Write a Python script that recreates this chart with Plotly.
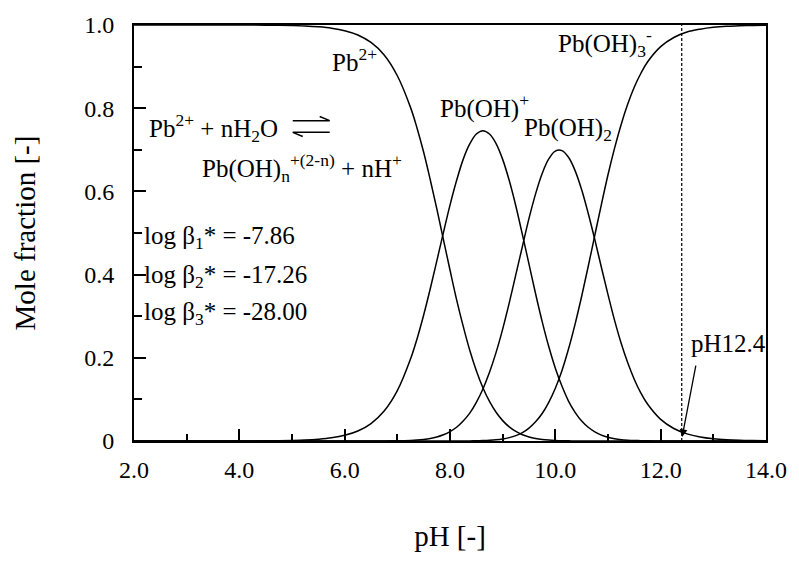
import plotly.graph_objects as go

# pH grid and mole fractions
ph = [2.0, 2.25, 2.5, 2.75, 3.0, 3.25, 3.5, 3.75, 4.0, 4.25, 4.5, 4.75,
      5.0, 5.25, 5.5, 5.75, 6.0, 6.25, 6.5, 6.75, 7.0, 7.25,
      7.375, 7.5, 7.625, 7.75, 7.875, 8.0, 8.125, 8.25, 8.375, 8.5, 8.625, 8.75, 8.875,
      9.0, 9.125, 9.25, 9.375, 9.5, 9.625, 9.75, 9.875, 10.0, 10.125, 10.25, 10.375,
      10.5, 10.625, 10.75, 10.875, 11.0, 11.125, 11.25, 11.375, 11.5, 11.625,
      11.75, 12.0, 12.25, 12.5, 12.75, 13.0, 13.25, 13.5, 13.75, 14.0]

pb2 = [1.0, 1.0, 1.0, 1.0, 1.0, 1.0, 1.0, 0.9999, 0.9999, 0.9998, 0.9996, 0.9992,
       0.9986, 0.9976, 0.9956, 0.9923, 0.9864, 0.976, 0.958, 0.928, 0.878, 0.802,
       0.752, 0.694, 0.628, 0.558, 0.484, 0.411, 0.340, 0.276, 0.218, 0.169, 0.128, 0.095, 0.069,
       0.049, 0.034, 0.023, 0.015, 0.0097, 0.0061, 0.0037, 0.0022, 0.0013, 0.0007, 0.0004, 0.0002,
       0.0001, 0.0, 0.0, 0.0, 0.0, 0.0, 0.0, 0.0, 0.0, 0.0,
       0.0, 0.0, 0.0, 0.0, 0.0, 0.0, 0.0, 0.0, 0.0, 0.0]

pboh = [0.0, 0.0, 0.0, 0.0, 0.0, 0.0, 0.0, 0.0001, 0.0001, 0.0002, 0.0004, 0.0008,
        0.0014, 0.0024, 0.0044, 0.0077, 0.0136, 0.024, 0.042, 0.072, 0.121, 0.197,
        0.246, 0.303, 0.366, 0.433, 0.501, 0.567, 0.626, 0.677, 0.714, 0.738, 0.746, 0.738, 0.715,
        0.677, 0.626, 0.565, 0.496, 0.425, 0.354, 0.287, 0.227, 0.175, 0.132, 0.096, 0.069,
        0.048, 0.033, 0.022, 0.014, 0.0088, 0.0055, 0.0033, 0.0020, 0.0012, 0.0007,
        0.0004, 0.0001, 0.0, 0.0, 0.0, 0.0, 0.0, 0.0, 0.0, 0.0]

pboh2 = [0.0, 0.0, 0.0, 0.0, 0.0, 0.0, 0.0, 0.0, 0.0, 0.0, 0.0, 0.0,
         0.0, 0.0, 0.0, 0.0, 0.0, 0.0, 0.0001, 0.0002, 0.0005, 0.0014,
         0.0023, 0.0038, 0.0061, 0.0097, 0.015, 0.0226, 0.033, 0.048, 0.067, 0.093, 0.125, 0.165, 0.213,
         0.269, 0.332, 0.400, 0.468, 0.535, 0.594, 0.643, 0.678, 0.697, 0.698, 0.682, 0.650,
         0.604, 0.547, 0.484, 0.417, 0.352, 0.290, 0.235, 0.188, 0.148, 0.115,
         0.089, 0.052, 0.030, 0.0171, 0.0097, 0.0055, 0.0031, 0.0017, 0.0010, 0.0005]

pboh3 = [0.0, 0.0, 0.0, 0.0, 0.0, 0.0, 0.0, 0.0, 0.0, 0.0, 0.0, 0.0,
         0.0, 0.0, 0.0, 0.0, 0.0, 0.0, 0.0, 0.0, 0.0, 0.0,
         0.0, 0.0, 0.0, 0.0, 0.0, 0.0, 0.0001, 0.0002, 0.0003, 0.0005, 0.001, 0.0017, 0.0029,
         0.0049, 0.0081, 0.0129, 0.020, 0.031, 0.046, 0.066, 0.093, 0.127, 0.169, 0.221, 0.281,
         0.348, 0.420, 0.495, 0.569, 0.640, 0.704, 0.761, 0.810, 0.851, 0.884,
         0.911, 0.948, 0.970, 0.983, 0.990, 0.9945, 0.997, 0.998, 0.999, 0.9995]

x_tickvals = [2, 4, 6, 8, 10, 12, 14]
x_ticktext = ["2.0", "4.0", "6.0", "8.0", "10.0", "12.0", "14.0"]
y_tickvals = [0, 0.2, 0.4, 0.6, 0.8, 1.0]
y_ticktext = ["0", "0.2", "0.4", "0.6", "0.8", "1.0"]

ph_marker = 12.4

FONT = "Liberation Serif"
fig = go.Figure()
for ys in (pb2, pboh, pboh2, pboh3):
    fig.add_trace(go.Scatter(x=ph, y=ys, mode="lines",
                             line=dict(color="black", width=1.5, shape="spline", smoothing=1.0),
                             showlegend=False, hoverinfo="skip"))

# dashed marker line
fig.add_shape(type="line", x0=ph_marker, x1=ph_marker, y0=0, y1=1, xref="x", yref="y",
              line=dict(color="black", width=1.2, dash="3px,2px"))

# equilibrium harpoons
fig.add_shape(type="path", path="M 5.014 0.770 L 5.716 0.770 L 5.526 0.780",
              xref="x", yref="y", line=dict(color="black", width=1.5))
fig.add_shape(type="path", path="M 5.204 0.732 L 5.014 0.742 L 5.716 0.742",
              xref="x", yref="y", line=dict(color="black", width=1.5))

def txt(x, y, s, anchor="left"):
    fig.add_annotation(x=x, y=y, xref="x", yref="y", text=s, showarrow=False,
                       xanchor=anchor, yanchor="middle",
                       font=dict(family=FONT, size=25, color="black"))

txt(5.716, 0.917, "Pb<sup>2+</sup>")
txt(2.246, 0.752, "Pb<sup>2+</sup> + nH<sub>2</sub>O")
txt(3.251, 0.657, "Pb(OH)<sub>n</sub><sup>+(2-n)</sup> + nH<sup>+</sup>")
txt(2.152, 0.490, "log β<sub>1</sub>* = -7.86")
txt(2.152, 0.396, "log β<sub>2</sub>* = -17.26")
txt(2.152, 0.306, "log β<sub>3</sub>* = -28.00")
txt(7.763, 0.805, "Pb(OH)<sup>+</sup>")
txt(9.374, 0.749, "Pb(OH)<sub>2</sub>")
txt(10.019, 0.957, "Pb(OH)<sub>3</sub><sup>-</sup>")
txt(13.28, 0.234, "pH12.4", anchor="center")

fig.add_annotation(x=12.407, y=0.0095, ax=12.673, ay=0.185, xref="x", yref="y",
                   axref="x", ayref="y", text="", showarrow=True,
                   arrowhead=2, arrowsize=1.2, arrowwidth=1.3, arrowcolor="black")

fig.update_layout(
    width=799, height=562,
    margin=dict(l=134, r=32, t=19, b=121),
    paper_bgcolor="white", plot_bgcolor="white",
    font=dict(family=FONT, color="black"),
    showlegend=False,
    xaxis=dict(range=[2, 14], tickvals=x_tickvals, ticktext=x_ticktext,
               ticks="inside", ticklen=12, tickwidth=2, tickcolor="black",
               minor=dict(dtick=1, tick0=0, ticks="inside", ticklen=7, tickwidth=2, tickcolor="black"),
               showline=True, linewidth=2, linecolor="black", mirror=True,
               showgrid=False, zeroline=False,
               tickfont=dict(family=FONT, size=24, color="black"),
               ticklabelstandoff=6,
               title=dict(text="pH [-]", font=dict(family=FONT, size=29, color="black"), standoff=44)),
    yaxis=dict(range=[0, 1], tickvals=y_tickvals, ticktext=y_ticktext,
               ticks="inside", ticklen=12, tickwidth=2, tickcolor="black",
               minor=dict(dtick=0.1, tick0=0, ticks="inside", ticklen=8, tickwidth=2, tickcolor="black"),
               showline=True, linewidth=2, linecolor="black", mirror=True,
               showgrid=False, zeroline=False,
               tickfont=dict(family=FONT, size=24, color="black"),
               ticklabelstandoff=13,
               title=dict(text="Mole fraction [-]", font=dict(family=FONT, size=29, color="black"), standoff=40)),
)

fig.write_html("out.html")
